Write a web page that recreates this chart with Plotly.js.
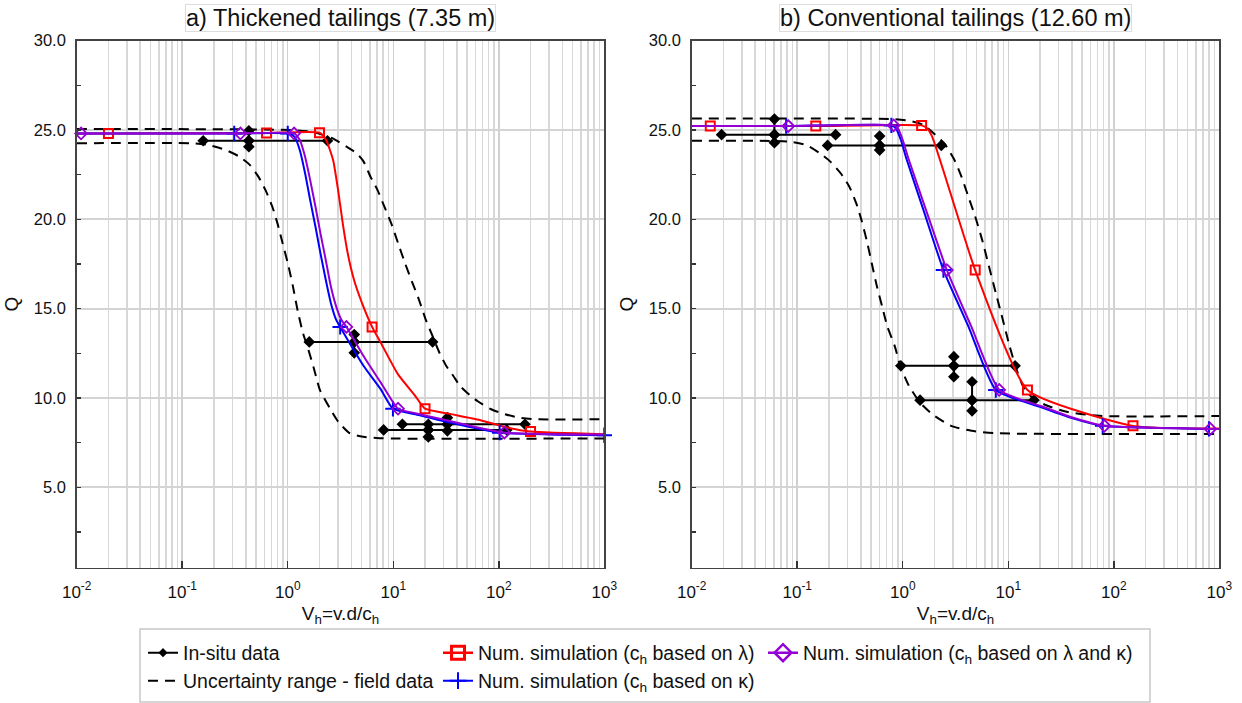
<!DOCTYPE html>
<html><head><meta charset="utf-8">
<script src="https://cdn.plot.ly/plotly-3.0.1.min.js"></script>
<style>body{margin:0;background:#fff}#chart{width:1242px;height:703px}</style>
</head><body><div id="chart"></div>
<script>
// ---------- tick labels ----------
const xTickVals = [0.01, 0.1, 1, 10, 100, 1000];
const xTickText = ['10<sup>-2</sup>','10<sup>-1</sup>','10<sup>0</sup>','10<sup>1</sup>','10<sup>2</sup>','10<sup>3</sup>'];
const yTickVals = [5, 10, 15, 20, 25, 30];

// ---------- panel a : thickened tailings ----------
const a_upper_x = [0.01, 1.08, 1.69, 2.66, 3.6, 4.5, 5.24, 6.08, 7.08, 8.22, 9.55, 11.1, 12.9, 15.0, 17.5, 20.3, 23.6, 27.4, 31.8, 37.1, 43.0, 50, 62.7, 84.7, 114.5, 155, 225, 1000];
const a_upper_y = [25.06, 25.0, 24.9, 24.53, 24.07, 23.7, 23.23, 22.39, 21.65, 20.72, 19.79, 18.67, 17.56, 16.53, 15.51, 14.39, 13.46, 12.53, 11.79, 11.23, 10.67, 10.30, 9.83, 9.37, 9.09, 8.90, 8.81, 8.81];
const a_lower_x = [0.01, 0.12, 0.177, 0.258, 0.348, 0.437, 0.527, 0.614, 0.713, 0.798, 0.893, 1.0, 1.12, 1.25, 1.40, 1.57, 1.78, 2.02, 2.51, 3.01, 3.89, 5.2, 6.97, 10.3, 1000];
const a_lower_y = [24.26, 24.26, 24.16, 23.88, 23.51, 23.05, 22.39, 21.65, 20.72, 19.79, 18.67, 17.56, 16.25, 14.8, 13.6, 12.7, 11.6, 10.44, 9.42, 8.67, 8.02, 7.83, 7.76, 7.73, 7.73];

const a_red_x = [0.01, 0.02, 0.63, 2.0, 2.31, 2.69, 3.0, 3.34, 3.73, 4.25, 5.06, 6.3, 7.62, 11.1, 16.2, 20.0, 34.4, 66, 120, 200, 1000];
const a_red_y = [24.81, 24.81, 24.83, 24.85, 24.44, 23.32, 21.64, 19.68, 18.0, 16.6, 15.31, 13.98, 13.09, 11.32, 10.11, 9.40, 9.11, 8.77, 8.35, 8.12, 7.97];
const a_red_mk = [1, 2, 3, 11, 15, 19];

const a_blue_x = [0.01, 0.311, 1.0, 1.16, 1.30, 1.46, 1.63, 1.83, 2.04, 2.29, 2.56, 2.87, 3.14, 3.6, 5.24, 7.62, 9.93, 16.2, 34.4, 102, 1000];
const a_blue_y = [24.81, 24.81, 24.81, 24.63, 23.88, 22.58, 21.09, 19.6, 18.11, 16.63, 15.32, 14.39, 13.98, 13.37, 11.79, 10.48, 9.40, 9.09, 8.62, 8.06, 7.91];
const a_blue_mk = [1, 2, 12, 16, 19, 20];

const a_purple_x = [0.01, 0.011, 0.356, 1.15, 1.30, 1.46, 1.63, 1.83, 2.04, 2.29, 2.56, 2.87, 3.21, 3.6, 5.24, 7.62, 11.1, 16.2, 34.4, 113, 1000];
const a_purple_y = [24.81, 24.81, 24.81, 24.81, 24.44, 23.51, 22.21, 20.72, 19.23, 17.74, 16.25, 15.14, 14.39, 13.98, 12.34, 10.86, 9.40, 9.15, 8.71, 8.06, 7.95];
const a_purple_mk = [1, 2, 3, 13, 16, 19];

const a_insitu_xc = [0.428, 4.27, 32.6, 21.5];
const a_insitu_yc = [24.40, 13.14, 8.53, 8.21];
const a_insitu_xl = [0.158, 1.60, 12.2, 8.1];
const a_insitu_xr = [2.38, 23.6, 177, 119];
const a_insitu_yt = [24.96, 13.55, 8.90, 8.53];
const a_insitu_yb = [24.07, 12.53, 8.16, 7.82];

// ---------- panel b : conventional tailings ----------
const b_upper_x = [0.01, 0.80, 1.16, 1.57, 1.97, 2.47, 3.09, 3.6, 4.18, 4.86, 5.65, 6.56, 7.62, 8.87, 10.3, 11.97, 13.9, 17.5, 24.9, 35.8, 73, 1000];
const b_upper_y = [25.65, 25.61, 25.52, 25.28, 24.81, 24.26, 23.32, 22.39, 21.28, 20.16, 18.86, 17.37, 15.88, 14.39, 12.9, 11.6, 10.63, 9.92, 9.51, 9.23, 9.0, 8.99];
const b_lower_x = [0.01, 0.0836, 0.1217, 0.164, 0.206, 0.258, 0.311, 0.362, 0.406, 0.454, 0.508, 0.569, 0.637, 0.713, 0.84, 0.95, 1.14, 1.46, 1.9, 2.87, 4.5, 7.62, 1000];
const b_lower_y = [24.40, 24.35, 24.16, 23.7, 23.23, 22.58, 21.84, 20.91, 19.97, 18.86, 17.56, 16.25, 15.14, 14.02, 12.9, 11.79, 10.7, 9.74, 9.1, 8.44, 8.16, 8.03, 7.98];

const b_red_x = [0.01, 0.015, 0.15, 1.51, 1.69, 1.90, 4.86, 15.2, 152, 1000];
const b_red_y = [25.22, 25.22, 25.22, 25.26, 25.11, 24.63, 17.16, 10.45, 8.44, 8.29];
const b_red_mk = [1, 2, 3, 6, 7, 8];

const b_blue_x = [0.01, 0.0785, 0.78, 0.86, 0.96, 1.08, 1.57, 2.43, 4.18, 7.62, 20, 38.6, 78.5, 798, 1000];
const b_blue_y = [25.22, 25.22, 25.26, 25.09, 24.44, 23.42, 20.53, 17.16, 14.02, 10.45, 9.5, 8.9, 8.44, 8.27, 8.27];
const b_blue_mk = [1, 2, 7, 9, 12, 13];

const b_purple_x = [0.01, 0.0823, 0.82, 0.90, 1.0, 1.13, 1.66, 2.62, 4.45, 8.22, 21, 40, 81.6, 822, 1000];
const b_purple_y = [25.22, 25.22, 25.26, 25.09, 24.44, 23.42, 20.53, 17.16, 14.02, 10.45, 9.52, 8.92, 8.44, 8.27, 8.27];
const b_purple_mk = [1, 2, 7, 9, 12, 13];

const b_insitu_xc = [0.0608, 0.604, 3.05, 4.54];
const b_insitu_yc = [24.74, 24.14, 11.80, 9.88];
const b_insitu_xl = [0.0192, 0.194, 0.96, 1.46];
const b_insitu_xr = [0.231, 2.32, 11.6, 17.5];
const b_insitu_yt = [25.61, 24.66, 12.31, 10.91];
const b_insitu_yb = [24.29, 23.88, 11.19, 9.28];

// ---------- legend names ----------
const names = {
  insitu: 'In-situ data',
  unc: 'Uncertainty range - field data',
  red: 'Num. simulation (c<sub>h</sub> based on λ)',
  blue: 'Num. simulation (c<sub>h</sub> based on κ)',
  purple: 'Num. simulation (c<sub>h</sub> based on λ and κ)'
};

// ---------- styles ----------
const FONT = 'Liberation Sans, Arial, sans-serif';
const RED = '#ff0000', BLUE = '#0000ff', PURPLE = '#9400d3', BLACK = '#000000';
const DASH = '10px,7px';
const W = 1242, H = 703;

const traces = [];
function pick(arr, idx) { return idx.map(i => arr[i]); }

function addPanel(p, xa, ya) {
  const d = p;
  // uncertainty range
  traces.push({x: d.upx, y: d.upy, xaxis: xa, yaxis: ya, mode: 'lines', showlegend: false,
    line: {color: BLACK, width: 2, dash: DASH, shape: 'spline', smoothing: 0.6}, hoverinfo: 'skip'});
  traces.push({x: d.lox, y: d.loy, xaxis: xa, yaxis: ya, mode: 'lines', showlegend: false,
    line: {color: BLACK, width: 2, dash: DASH, shape: 'spline', smoothing: 0.6}, hoverinfo: 'skip'});
  // in-situ crosses
  const ix = [], iy = [];
  for (let i = 0; i < d.ixc.length; i++) {
    ix.push(d.ixl[i], d.ixc[i], d.ixr[i], null, d.ixc[i], d.ixc[i], d.ixc[i], null);
    iy.push(d.iyc[i], d.iyc[i], d.iyc[i], null, d.iyt[i], d.iyc[i], d.iyb[i], null);
  }
  traces.push({x: ix, y: iy, xaxis: xa, yaxis: ya, mode: 'lines+markers', showlegend: false,
    connectgaps: false, cliponaxis: false,
    line: {color: BLACK, width: 2}, marker: {symbol: 'diamond', size: 9, color: BLACK}});
  // simulations
  const sims = [
    {x: d.rx, y: d.ry, mk: d.rmk, color: RED, sym: 'square-open', size: 9, lw: 2},
    {x: d.bx, y: d.by, mk: d.bmk, color: BLUE, sym: 'cross-thin-open', size: 11, lw: 2},
    {x: d.px, y: d.py, mk: d.pmk, color: PURPLE, sym: 'diamond-open', size: 9, lw: 1.8}
  ];
  sims.forEach(s => {
    traces.push({x: s.x, y: s.y, xaxis: xa, yaxis: ya, mode: 'lines', showlegend: false,
      line: {color: s.color, width: 2, shape: 'spline', smoothing: 0.5}});
    traces.push({x: pick(s.x, s.mk), y: pick(s.y, s.mk), xaxis: xa, yaxis: ya, mode: 'markers',
      showlegend: false, cliponaxis: false,
      marker: {symbol: s.sym, size: s.size, color: s.color, line: {color: s.color, width: s.lw}}});
  });
}

addPanel({upx: a_upper_x, upy: a_upper_y, lox: a_lower_x, loy: a_lower_y,
  ixc: a_insitu_xc, iyc: a_insitu_yc, ixl: a_insitu_xl, ixr: a_insitu_xr, iyt: a_insitu_yt, iyb: a_insitu_yb,
  rx: a_red_x, ry: a_red_y, rmk: a_red_mk, bx: a_blue_x, by: a_blue_y, bmk: a_blue_mk,
  px: a_purple_x, py: a_purple_y, pmk: a_purple_mk}, 'x', 'y');
addPanel({upx: b_upper_x, upy: b_upper_y, lox: b_lower_x, loy: b_lower_y,
  ixc: b_insitu_xc, iyc: b_insitu_yc, ixl: b_insitu_xl, ixr: b_insitu_xr, iyt: b_insitu_yt, iyb: b_insitu_yb,
  rx: b_red_x, ry: b_red_y, rmk: b_red_mk, bx: b_blue_x, by: b_blue_y, bmk: b_blue_mk,
  px: b_purple_x, py: b_purple_y, pmk: b_purple_mk}, 'x2', 'y2');

// legend-only entries
traces.push({x: [null], y: [null], name: names.insitu, legend: 'legend', mode: 'lines+markers',
  line: {color: BLACK, width: 2}, marker: {symbol: 'diamond', size: 7, color: BLACK}});
traces.push({x: [null], y: [null], name: names.unc, legend: 'legend2', mode: 'lines',
  line: {color: BLACK, width: 2, dash: DASH}});
traces.push({x: [null], y: [null], name: names.red, legend: 'legend3', mode: 'lines+markers',
  line: {color: RED, width: 2.5}, marker: {symbol: 'square-open', size: 13, color: RED, line: {color: RED, width: 3}}});
traces.push({x: [null], y: [null], name: names.blue, legend: 'legend4', mode: 'lines+markers',
  line: {color: BLUE, width: 2}, marker: {symbol: 'cross-thin-open', size: 12, color: BLUE, line: {color: BLUE, width: 2}}});
traces.push({x: [null], y: [null], name: names.purple, legend: 'legend5', mode: 'lines+markers',
  line: {color: PURPLE, width: 2.5}, marker: {symbol: 'diamond-open', size: 13, color: PURPLE, line: {color: PURPLE, width: 2.5}}});

// minor gridline positions (2..9 x each decade)
const minorVals = [];
for (let e = -2; e < 3; e++) for (let m = 2; m <= 9; m++) minorVals.push(m * Math.pow(10, e));

function xAxis(domain, anchor) {
  return {type: 'log', domain: domain, anchor: anchor, range: [-2, 3],
    tickmode: 'array', tickvals: xTickVals, ticktext: xTickText,
    ticks: 'inside', ticklen: 7, tickwidth: 1.5, tickcolor: '#333',
    showline: true, linecolor: '#444', linewidth: 1.5, mirror: true,
    showgrid: true, gridcolor: '#d0d0d0', gridwidth: 1.5, zeroline: false,
    minor: {tickmode: 'array', tickvals: minorVals, showgrid: true, gridcolor: '#d8d8d8', gridwidth: 1.5, ticks: ''},
    tickfont: {family: FONT, size: 17, color: '#111'}, ticklabelstandoff: 8,
    title: {text: 'V<sub>h</sub>=v.d/c<sub>h</sub>', font: {family: FONT, size: 19, color: '#111'}, standoff: 6}};
}
function yAxis(anchor) {
  return {domain: [1 - 567.7 / H, 1 - 40.7 / H], anchor: anchor, range: [0.5, 30],
    tickmode: 'array', tickvals: yTickVals, tickformat: '.1f',
    ticks: 'inside', ticklen: 4, tickwidth: 1.5, tickcolor: '#333',
    minor: {dtick: 2.5, tick0: 0, ticks: 'inside', ticklen: 4, tickwidth: 1.5, tickcolor: '#333', showgrid: false},
    showline: true, linecolor: '#444', linewidth: 1.5, mirror: true,
    showgrid: true, gridcolor: '#d4d4d4', gridwidth: 2, zeroline: false,
    tickfont: {family: FONT, size: 16.5, color: '#111'}, ticklabelstandoff: 6,
    title: {text: 'Q', font: {family: FONT, size: 19, color: '#111'}, standoff: 10}};
}

function leg(xpx, ypx) {
  return {x: xpx / W, y: 1 - ypx / H, xanchor: 'left', yanchor: 'middle', xref: 'paper', yref: 'paper',
    bgcolor: 'rgba(0,0,0,0)', borderwidth: 0, font: {family: FONT, size: 19.5, color: '#111'}};
}

const layout = {
  width: W, height: H, margin: {l: 0, r: 0, t: 0, b: 0},
  paper_bgcolor: '#fff', plot_bgcolor: '#fff',
  font: {family: FONT},
  xaxis: xAxis([76.7 / W, 604.3 / W], 'y'),
  yaxis: yAxis('x'),
  xaxis2: xAxis([691.7 / W, 1219.3 / W], 'y2'),
  yaxis2: yAxis('x2'),
  legend: leg(143, 653),
  legend2: leg(143, 681),
  legend3: leg(438, 653),
  legend4: leg(438, 681),
  legend5: leg(763, 653),
  annotations: [
    {text: 'a) Thickened tailings (7.35 m)', xref: 'paper', yref: 'paper', x: 340.5 / W, y: 1 - 18 / H,
     xanchor: 'center', yanchor: 'middle', showarrow: false, font: {family: FONT, size: 23.5, color: '#111'},
     bordercolor: '#dddddd', borderwidth: 1, borderpad: 0},
    {text: 'b) Conventional tailings (12.60 m)', xref: 'paper', yref: 'paper', x: 955.5 / W, y: 1 - 18 / H,
     xanchor: 'center', yanchor: 'middle', showarrow: false, font: {family: FONT, size: 23.5, color: '#111'},
     bordercolor: '#dddddd', borderwidth: 1, borderpad: 0}
  ],
  shapes: [
    {type: 'rect', xref: 'paper', yref: 'paper', x0: 140 / W, x1: 1150 / W, y0: 1 - 702 / H, y1: 1 - 629 / H,
     line: {color: '#c8c8c8', width: 1.5}, fillcolor: 'rgba(0,0,0,0)'}
  ]
};

Plotly.newPlot('chart', traces, layout, {displayModeBar: false, staticPlot: true});
</script></body></html>
